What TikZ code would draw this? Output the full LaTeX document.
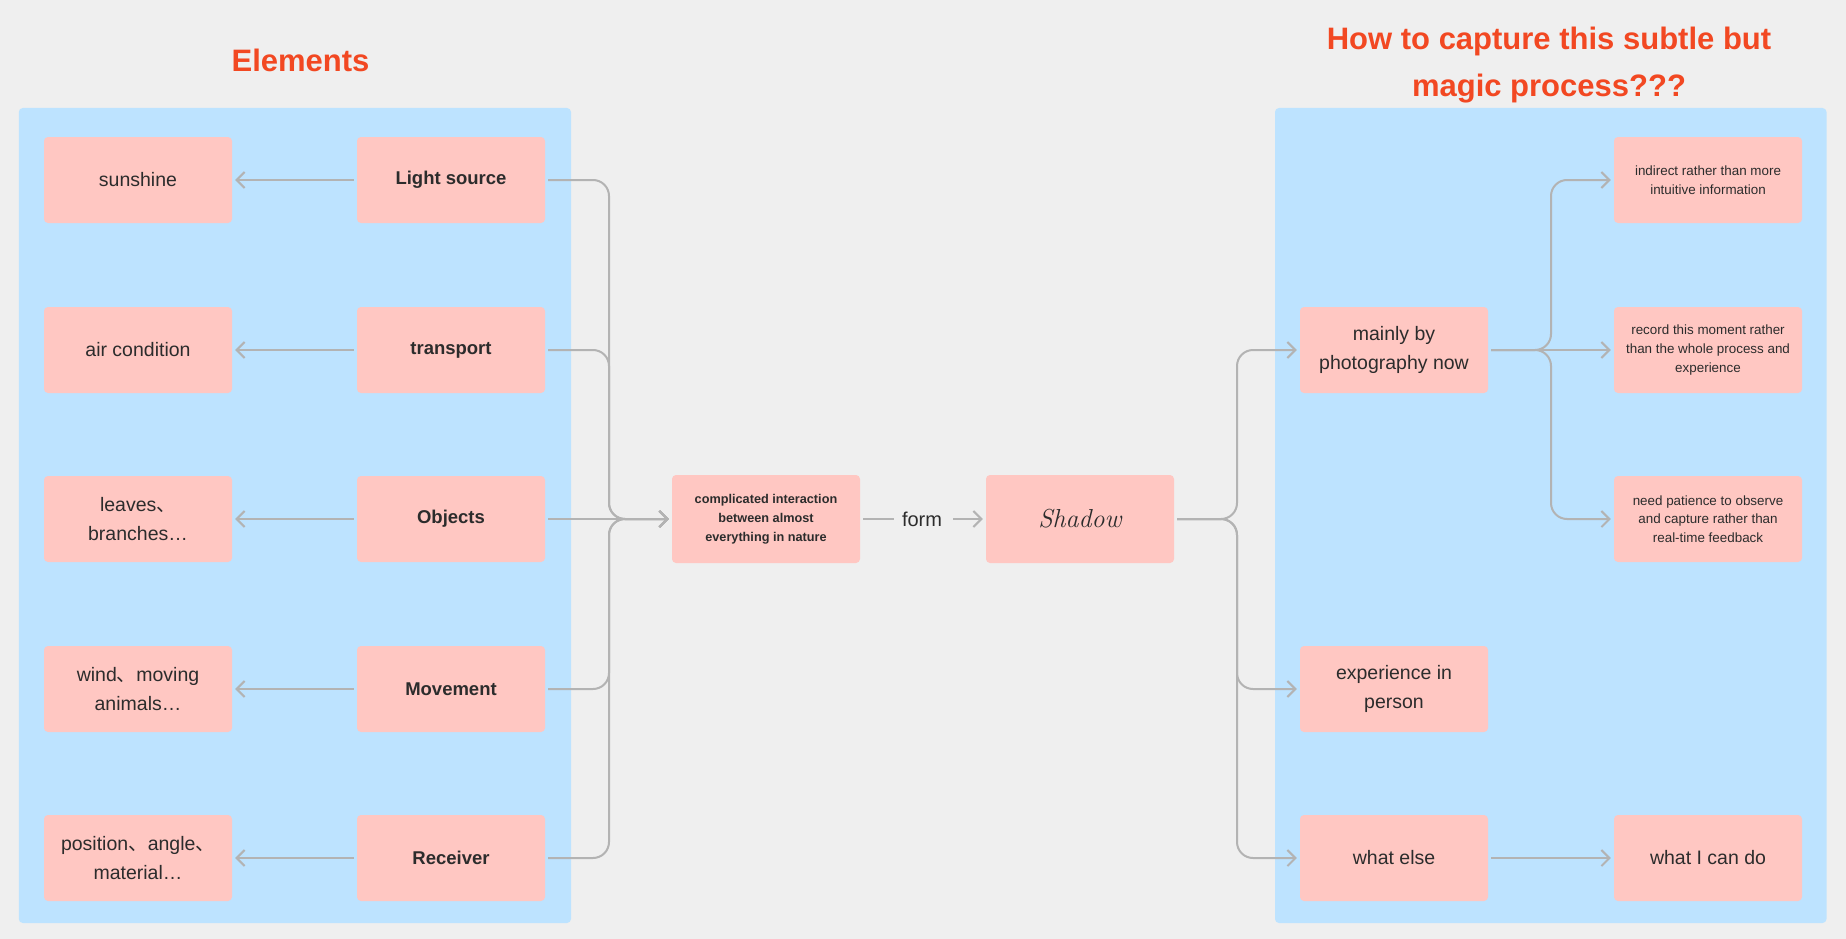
\documentclass[tikz,border=0pt]{standalone}
\usepackage{fontspec}
\setsansfont{Liberation Sans}
\renewcommand{\familydefault}{\sfdefault}
\newfontfamily\cjkfont{Noto Sans CJK SC}
\usetikzlibrary{arrows.meta}
\definecolor{bgc}{HTML}{EFEFEF}
\definecolor{panelc}{HTML}{BDE3FF}
\definecolor{boxc}{HTML}{FFC7C2}
\definecolor{linec}{HTML}{B3B3B3}
\definecolor{titlec}{HTML}{F24822}
\definecolor{txtc}{HTML}{2C2C2C}
\newcommand\dun{{\cjkfont 、}}
\begin{document}
\begin{tikzpicture}[x=1pt,y=-1pt,
  box/.style={fill=boxc, rounded corners=4pt, minimum width=188pt, minimum height=86pt, inner sep=0pt, align=center, text=txtc, font=\fontsize{19.5}{28.3}\selectfont},
  boldbox/.style={box, font=\fontsize{18.5}{26}\selectfont\bfseries},
  smallbox/.style={box, font=\fontsize{13.4}{18.7}\selectfont},
  titletext/.style={text=titlec, inner sep=0pt, font=\fontsize{31}{46.7}\selectfont\bfseries},
  line/.style={draw=linec, line width=2pt, rounded corners=16pt, shorten <=3pt},
  conn/.style={line, -{Straight Barb[length=8pt,width=16pt]}, shorten >=3pt},
  panel/.style={fill=panelc, rounded corners=4pt}
]
\useasboundingbox (0,0) rectangle (1846,939);
\fill[bgc] (0,0) rectangle (1846,939);

% panels
\fill[panel] (18.8,108) rectangle (571,923);
\fill[panel] (1275,108) rectangle (1826.5,923);

% titles
\node[titletext, anchor=base] (t1) at (300.5,71.7) {Elements};
\node[titletext, anchor=base, align=center] (t2) at (1549,96.7) {How to capture this subtle but\\magic process???};

% left column
\node[box] (sun) at (138,180) {sunshine};
\node[box] (air) at (138,350) {air condition};
\node[box] (lea) at (138,519) {leaves\dun\\branches…};
\node[box] (win) at (138,689) {wind\dun moving\\animals…};
\node[box] (pos) at (138,858) {position\dun angle\dun\\material…};

\node[boldbox] (ls) at (451,180) {Light source};
\node[boldbox] (tr) at (451,350) {transport};
\node[boldbox] (ob) at (451,519) {Objects};
\node[boldbox] (mv) at (451,689) {Movement};
\node[boldbox] (rc) at (451,858) {Receiver};

% center
\node[box, minimum height=88pt, font=\fontsize{12.7}{19}\selectfont\bfseries] (cx) at (766,519) {complicated interaction\\between almost\\everything in nature};
\node[text=txtc, inner xsep=8pt, inner ysep=0pt, font=\fontsize{20}{24}\selectfont] (form) at (922,519) {form};
\node[box, minimum height=88pt, font=\fontsize{26}{30}\selectfont\rmfamily\itshape] (sh) at (1080,519) {Shadow};

% right panel
\node[box] (mp) at (1394,350) {mainly by\\photography now};
\node[box] (ep) at (1394,689) {experience in\\person};
\node[box] (we) at (1394,858) {what else};
\node[smallbox] (r1) at (1708,180) {indirect rather than more\\intuitive information};
\node[smallbox] (r2) at (1708,350) {record this moment rather\\than the whole process and\\experience};
\node[smallbox] (r3) at (1708,519) {need patience to observe\\and capture rather than\\real-time feedback};
\node[box] (wc) at (1708,858) {what I can do};

% left arrows
\draw[conn] (ls.west) -- (sun.east);
\draw[conn] (tr.west) -- (air.east);
\draw[conn] (ob.west) -- (lea.east);
\draw[conn] (mv.west) -- (win.east);
\draw[conn] (rc.west) -- (pos.east);

% left bus
\coordinate (bl) at (609,519);
\draw[conn] (ls.east) -| (bl) -- (cx.west);
\draw[conn] (tr.east) -| (bl) -- (cx.west);
\draw[conn] (ob.east) -- (cx.west);
\draw[conn] (mv.east) -| (bl) -- (cx.west);
\draw[conn] (rc.east) -| (bl) -- (cx.west);

% form
\draw[line] (cx.east) -- (form.west);
\draw[conn] (form.east) -- (sh.west);

% right bus
\coordinate (br) at (1237,519);
\draw[conn] (sh.east) -- (br) |- (mp.west);
\draw[conn] (sh.east) -- (br) |- (ep.west);
\draw[conn] (sh.east) -- (br) |- (we.west);

\coordinate (bm) at (1551,350);
\draw[conn] (mp.east) -- (bm) |- (r1.west);
\draw[conn] (mp.east) -- (r2.west);
\draw[conn] (mp.east) -- (bm) |- (r3.west);
\draw[conn] (we.east) -- (wc.west);
\end{tikzpicture}
\end{document}
